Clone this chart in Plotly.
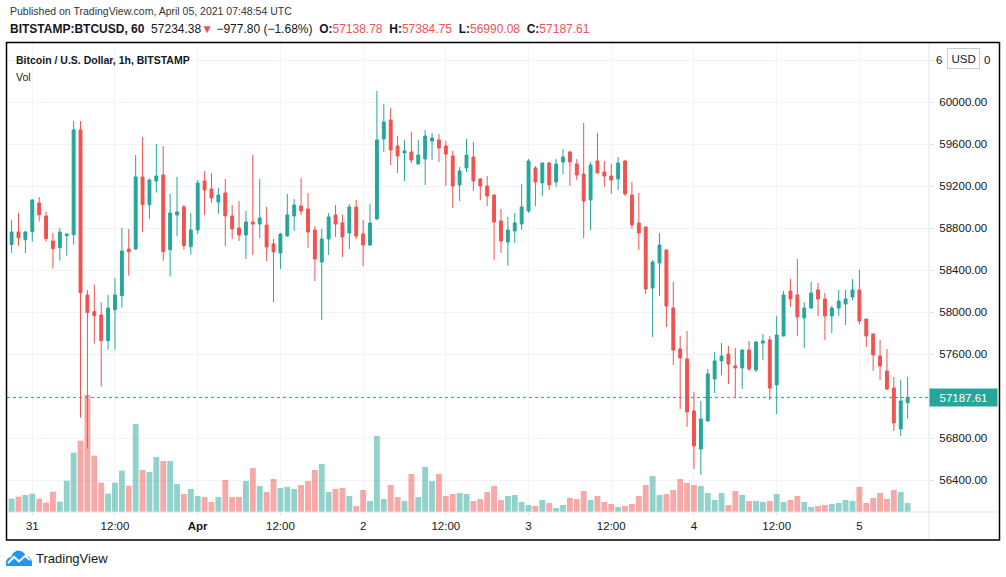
import pandas as pd
import plotly.graph_objects as go

# hourly BITSTAMP:BTCUSD candles, first bar 2021-03-30 21:00 UTC
START = "2021-03-30 21:00"

opens = [
    58645, 58765, 58692, 58768, 59041, 58918, 58679, 58616, 58730, 58740,
    59737, 58165, 58006, 57975, 57730, 58025, 58159, 58603, 58603, 59289,
    59025, 59251, 59308, 58597, 58927, 59003, 58625, 58784, 59251, 59175,
    59051, 59137, 58918, 58803, 58737, 58860, 58841, 58832, 58651, 58565,
    58727, 58918, 59013, 58984, 58784, 58479, 58698, 58927, 58851, 58756,
    59003, 58746, 58641, 58889, 59651, 59832, 59584, 59517, 59527, 59413,
    59460, 59632, 59641, 59584, 59489, 59213, 59375, 59479, 59270, 59203,
    59117, 58870, 58670, 58775, 58841, 58965, 59375, 59232, 59422, 59241,
    59432, 59527, 59413, 59317, 59070, 59441, 59337, 59298, 59270, 59441,
    59117, 58851, 58813, 58232, 58470, 58594, 58041, 57651, 57556, 57060,
    56698, 56965, 57365, 57537, 57603, 57489, 57470, 57641, 57451, 57708,
    57737, 57308, 57775, 58203, 58165, 57946, 58041, 58213, 58127, 57965,
    58041, 58079, 58146, 58213, 57936, 57794, 57584, 57441, 57279, 56889,
    57138.78,
]
highs = [
    58879, 58946, 58775, 59076, 59098, 58956, 58756, 58803, 58748, 59822,
    59822, 58213, 58263, 58098, 58165, 58327, 58803, 58794, 59498, 59670,
    59276, 59603, 59584, 59127, 59289, 59022, 58946, 59260, 59346, 59327,
    59184, 59270, 59022, 59060, 58965, 59498, 59270, 59003, 58698, 58756,
    59127, 59079, 59279, 59137, 58822, 58794, 58946, 59022, 58927, 59032,
    59070, 58879, 59032, 60108, 59984, 59946, 59679, 59641, 59717, 59641,
    59737, 59708, 59698, 59632, 59537, 59384, 59651, 59622, 59279, 59298,
    59120, 58984, 58908, 58946, 59222, 59460, 59394, 59425, 59432, 59460,
    59556, 59537, 59460, 59803, 59432, 59708, 59441, 59413, 59479, 59451,
    59241, 59137, 58815, 58498, 58756, 58597, 58289, 57775, 57822, 57241,
    57156, 57460, 57622, 57708, 57679, 57660, 57645, 57727, 57727, 57794,
    57775, 57965, 58203, 58317, 58508, 58098, 58289, 58279, 58184, 58060,
    58213, 58213, 58317, 58403, 57936, 57797, 57737, 57651, 57384, 57356,
    57384.75,
]
lows = [
    58565, 58635, 58565, 58673, 58864, 58673, 58416, 58492, 58540, 58645,
    56997, 56702, 57702, 57292, 57644, 57644, 58044, 58349, 58594, 58765,
    58889, 59140, 58492, 58340, 58727, 58597, 58549, 58746, 58927, 59041,
    58937, 58632, 58698, 58679, 58508, 58546, 58708, 58489, 58098, 58413,
    58720, 58775, 58927, 58613, 58298, 57927, 58546, 58717, 58527, 58603,
    58698, 58441, 58632, 58880, 59527, 59403, 59327, 59251, 59422, 59410,
    59213, 59451, 59432, 59203, 58994, 59060, 59337, 59156, 59070, 59013,
    58498, 58565, 58444, 58660, 58784, 58946, 59013, 59108, 59165, 59194,
    59317, 59203, 59260, 58708, 58784, 59325, 59194, 59127, 59165, 59108,
    58794, 58594, 58175, 57765, 58156, 57860, 57498, 57079, 56908, 56508,
    56451, 56960, 57232, 57403, 57317, 57194, 57270, 57441, 57430, 57546,
    57165, 57032, 57770, 58051, 57775, 57660, 58035, 57965, 57737, 57803,
    57965, 57879, 58117, 57889, 57670, 57441, 57356, 57260, 56870, 56822,
    56990.08,
]
closes = [
    58765, 58711, 58765, 59070, 58930, 58702, 58606, 58765, 58746, 59737,
    58187, 57997, 57968, 57730, 58041, 58165, 58584, 58578, 59289, 59025,
    59260, 59298, 58578, 58946, 58956, 58635, 58784, 59232, 59165, 59089,
    59117, 58918, 58794, 58737, 58860, 58841, 58898, 58622, 58575, 58746,
    58927, 59022, 58965, 58765, 58508, 58698, 58908, 58841, 58717, 59003,
    58727, 58641, 58851, 59641, 59813, 59546, 59489, 59537, 59451, 59498,
    59679, 59660, 59565, 59508, 59203, 59346, 59498, 59251, 59203, 59108,
    58860, 58679, 58784, 58851, 59003, 59441, 59241, 59422, 59213, 59413,
    59479, 59432, 59308, 59060, 59403, 59327, 59298, 59260, 59422, 59127,
    58832, 58756, 58222, 58479, 58641, 58060, 57641, 57565, 57051, 56727,
    56984, 57413, 57537, 57584, 57508, 57470, 57641, 57460, 57717, 57727,
    57279, 57784, 58165, 58127, 57956, 58041, 58184, 58127, 57965, 58041,
    58108, 58127, 58213, 57917, 57775, 57594, 57489, 57270, 56946, 57156,
    57187.61,
]
volumes = [
    240, 276, 306, 330, 240, 168, 366, 186, 564, 1068,
    1284, 2106, 1014, 528, 330, 528, 744, 474, 1584, 756,
    720, 990, 918, 918, 504, 324, 414, 288, 270, 180,
    270, 576, 270, 270, 558, 792, 468, 360, 594, 432,
    450, 414, 486, 558, 756, 864, 360, 414, 432, 288,
    108, 396, 198, 1368, 234, 486, 270, 198, 684, 270,
    810, 558, 684, 288, 324, 342, 324, 198, 234, 360,
    468, 216, 288, 306, 180, 126, 108, 216, 162, 72,
    126, 252, 234, 378, 216, 288, 180, 144, 90, 108,
    144, 288, 486, 648, 306, 324, 396, 594, 522, 486,
    468, 342, 216, 342, 126, 378, 306, 198, 198, 180,
    198, 324, 180, 216, 288, 180, 90, 108, 126, 144,
    162, 216, 198, 450, 162, 252, 342, 234, 396, 360,
    162,
]

tick_dates = [
    "2021-03-31 00:00", "2021-03-31 12:00", "2021-04-01 00:00", "2021-04-01 12:00",
    "2021-04-02 00:00", "2021-04-02 12:00", "2021-04-03 00:00", "2021-04-03 12:00",
    "2021-04-04 00:00", "2021-04-04 12:00", "2021-04-05 00:00",
]
tick_text = ["31", "12:00", "<b>Apr</b>", "12:00", "2", "12:00", "3", "12:00", "4", "12:00", "5"]

# price ticks; the top one (60400) sits under the USD badge
price_ticks = [56400, 56800, 57200, 57600, 58000, 58400, 58800, 59200, 59600, 60000, 60400]
hidden_tick = 60400

last_price = 57187.61

UP = "#26a69a"
DOWN = "#ef5350"
UP_VOL = "rgba(38,166,154,0.5)"
DOWN_VOL = "rgba(239,83,80,0.5)"
GRID = "#f0f3fa"
AXIS = "#e0e3eb"
TEXT = "#131722"
FONT = "Liberation Sans, Arial, sans-serif"

# plot area in page pixels
W, H = 1006, 577
L, R, T, B = 7, 929, 43, 512


def px(x):
    return (x - L) / (R - L)


def py(y):
    return (B - y) / (B - T)


def path(points, close=True):
    s = "M " + " L ".join("{:.5f} {:.5f}".format(px(x), py(y)) for x, y in points)
    return s + (" Z" if close else "")


times = pd.date_range(START, periods=len(opens), freq="h")
vol_colors = [UP_VOL if c >= o else DOWN_VOL for o, c in zip(opens, closes)]

fig = go.Figure()
fig.add_trace(go.Bar(
    x=times, y=volumes, marker_color=vol_colors, marker_line_width=0,
    yaxis="y", hoverinfo="skip",
))
fig.add_trace(go.Candlestick(
    x=times, open=opens, high=highs, low=lows, close=closes, yaxis="y2",
    increasing=dict(line=dict(color=UP, width=1), fillcolor=UP),
    decreasing=dict(line=dict(color=DOWN, width=1), fillcolor=DOWN),
    whiskerwidth=0,
))

red = "<span style='color:#ef5350'>{}</span>"
line2 = (
    "<b>BITSTAMP:BTCUSD, 60</b>  57234.38" + red.format("▼") + " −977.80 (−1.68%)  "
    + "<b>O:</b>" + red.format("57138.78") + "  <b>H:</b>" + red.format("57384.75")
    + "  <b>L:</b>" + red.format("56990.08") + "  <b>C:</b>" + red.format("57187.61")
)

annotations = [
    dict(x=px(8), y=py(11), text="Published on TradingView.com, April 05, 2021 07:48:54 UTC",
         font=dict(size=10.5, color="#333333")),
    dict(x=px(8), y=py(29), text=line2, font=dict(size=12, color=TEXT)),
    dict(x=px(14), y=py(60), text="<b>Bitcoin / U.S. Dollar, 1h, BITSTAMP</b>",
         font=dict(size=10.5, color=TEXT)),
    dict(x=px(14), y=py(77), text="Vol", font=dict(size=10.5, color=TEXT)),
    dict(x=px(34), y=py(558), text="TradingView", font=dict(size=13, color=TEXT)),
]
for a in annotations:
    a.update(xref="paper", yref="paper", xanchor="left", yanchor="middle", showarrow=False)

# the 60400.00 label peeks out on both sides of the USD badge
annotations.append(dict(
    x=px(944.5), y=hidden_tick, xref="paper", yref="y2", xanchor="right", yanchor="middle",
    text="6", showarrow=False, font=dict(size=11.5, color=TEXT),
))
annotations.append(dict(
    x=px(981.5), y=hidden_tick, xref="paper", yref="y2", xanchor="left", yanchor="middle",
    text="0", showarrow=False, font=dict(size=11.5, color=TEXT),
))
annotations.append(dict(
    x=px(963.5), y=py(58.5), xref="paper", yref="paper", xanchor="center", yanchor="middle",
    text="USD", showarrow=False,
    font=dict(size=11.5, color=TEXT), bgcolor="white", bordercolor="#c8cbd3",
    borderwidth=1, borderpad=3.5,
))
annotations.append(dict(
    x=1, y=last_price, xref="paper", yref="y2", xanchor="left", yanchor="middle",
    text="{:.2f}".format(last_price), showarrow=False, width=62, height=12,
    font=dict(size=11.5, color="white"), bgcolor=UP, borderpad=2.5,
))

shapes = [
    # current price line
    dict(type="line", xref="paper", yref="y2", x0=0, x1=1, y0=last_price, y1=last_price,
         line=dict(color=UP, width=1, dash="dot")),
    # axis separators
    dict(type="line", xref="paper", yref="paper", x0=px(929), x1=px(929), y0=py(540), y1=py(43),
         line=dict(color=AXIS, width=1)),
    dict(type="line", xref="paper", yref="paper", x0=px(7), x1=px(999), y0=py(512), y1=py(512),
         line=dict(color=AXIS, width=1)),
    # outer frame
    dict(type="rect", xref="paper", yref="paper", x0=px(6.5), x1=px(999.5), y0=py(540), y1=py(42.5),
         line=dict(color="black", width=1.5)),
    # TradingView logo
    dict(type="path", xref="paper", yref="paper",
         path=path([(6, 566), (6, 561), (8, 558), (11, 557), (13, 553), (17, 550.5), (21, 551),
                    (24, 553), (26, 556), (29, 557), (31, 559), (32, 562), (32, 566)]),
         fillcolor="#2196f3", line=dict(width=0)),
    dict(type="path", xref="paper", yref="paper",
         path=path([(8, 563), (14, 557), (19, 561.5), (25, 556), (30, 560)], close=False),
         line=dict(color="white", width=2)),
]

fig.update_layout(
    width=W, height=H,
    margin=dict(l=L, r=W - R, t=T, b=H - B, pad=0),
    paper_bgcolor="white", plot_bgcolor="white",
    showlegend=False, hovermode=False,
    boxgap=0.4, bargap=0.15,
    font=dict(family=FONT, color=TEXT),
    annotations=annotations, shapes=shapes,
    xaxis=dict(
        type="date", range=["2021-03-30 20:20", "2021-04-05 10:06"],
        tickvals=tick_dates, ticktext=tick_text,
        ticks="outside", ticklen=3, tickcolor=AXIS,
        showgrid=True, gridcolor=GRID, zeroline=False, showline=False,
        tickfont=dict(size=11.5, color=TEXT),
        rangeslider=dict(visible=False), fixedrange=True,
    ),
    yaxis=dict(range=[0, 8442], visible=False, showgrid=False, fixedrange=True),
    yaxis2=dict(
        overlaying="y", side="right", range=[56098, 60565],
        tickvals=price_ticks,
        ticktext=["" if v == hidden_tick else "{:.2f}".format(v) for v in price_ticks],
        ticks="outside", ticklen=4, tickcolor=AXIS, ticklabelstandoff=3,
        showgrid=True, gridcolor=GRID, zeroline=False, showline=False,
        tickfont=dict(size=11.5, color=TEXT), fixedrange=True,
    ),
)

# the page body has a default 8px margin; drop it so the chart sits at the top-left corner
fig.write_html(
    "out.html",
    config={"displayModeBar": False},
    post_script="document.body.style.margin='0';",
)
